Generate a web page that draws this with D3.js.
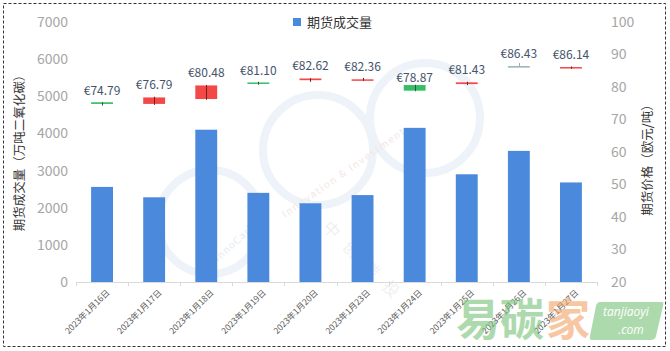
<!DOCTYPE html>
<html>
<head>
<meta charset="utf-8">
<script src="https://cdn.jsdelivr.net/npm/d3@7/dist/d3.min.js"></script>
<style>
  html, body { margin: 0; padding: 0; background: #fff; }
  svg { display: block; }
</style>
</head>
<body>
<svg id="chart" width="670" height="351"></svg>
<script>
// ---- data ----
const dates = ["2023年1月16日","2023年1月17日","2023年1月18日","2023年1月19日","2023年1月20日",
               "2023年1月23日","2023年1月24日","2023年1月25日","2023年1月26日","2023年1月27日"];
const volume = [2560, 2280, 4100, 2400, 2120, 2340, 4150, 2900, 3530, 2680];
const openP  = [75.3, 74.8, 76.3, 81.4, 82.1, 82.30, 80.6, 80.9, 86.43, 85.7];
const closeP = [74.79, 76.79, 80.48, 81.10, 82.62, 82.36, 78.87, 81.43, 86.43, 86.14];
const highP  = [75.3, 77.0, 80.6, 81.6, 82.7, 82.8, 80.7, 81.6, 87.4, 86.3];
const lowP   = [74.3, 74.5, 76.1, 80.7, 81.6, 81.9, 78.7, 80.6, 86.43, 85.6];
const leftTicks = [0, 1000, 2000, 3000, 4000, 5000, 6000, 7000];
const rightTicks = [20, 30, 40, 50, 60, 70, 80, 90, 100];
const legendLabel = "期货成交量";
const leftTitle = "期货成交量（万吨二氧化碳）";
const rightTitle = "期货价格（欧元/吨）";

const font = "'Noto Sans CJK SC','Noto Sans',sans-serif";
const svg = d3.select("#chart");

// outer dashed border
svg.append("rect").attr("x", 3.5).attr("y", 3.5).attr("width", 662).attr("height", 343)
  .attr("fill", "#fff").attr("stroke", "#333").attr("stroke-width", 1).attr("stroke-dasharray", "3,2");

// ---- watermark ----
const wm = svg.append("g").attr("pointer-events", "none");
[[210, 222, 52], [318, 150, 55], [425, 118, 55]].forEach(c => {
  wm.append("circle").attr("cx", c[0]).attr("cy", c[1]).attr("r", c[2])
    .attr("fill", "none").attr("stroke", "#edf3f9").attr("stroke-width", 8);
});
wm.append("text").attr("transform", "translate(218,262) rotate(-42)")
  .attr("font-family", font).attr("font-size", 10).attr("fill", "#e6ecf2").attr("letter-spacing", 1).text("InnoCarbon");
wm.append("text").attr("transform", "translate(285,218) rotate(-35)")
  .attr("font-family", font).attr("font-size", 10).attr("fill", "#f5e6e6").attr("letter-spacing", 1.5).text("Innovation & Investment");
wm.append("text").attr("transform", "translate(322,228) rotate(45)")
  .attr("font-family", font).attr("font-size", 16).attr("fill", "#f0f0f0").attr("letter-spacing", 12).text("中创碳投");

// ---- scales ----
const x = d3.scaleBand().domain(dates).range([76, 597]).paddingInner(0.58).paddingOuter(0.29);
const step = x.step();
const yL = d3.scaleLinear().domain([0, 7000]).range([282, 22]);
const yR = d3.scaleLinear().domain([20, 100]).range([282, 22]);

// ---- axes ----
const axL = svg.append("g").attr("transform", "translate(70,0)")
  .call(d3.axisLeft(yL).tickValues(leftTicks).tickFormat(d3.format("d")).tickSize(0).tickPadding(2));
axL.select(".domain").remove();
axL.selectAll("text").attr("font-family", font).attr("font-size", 14).attr("fill", "#a6a6a6");

const axR = svg.append("g").attr("transform", "translate(609,0)")
  .call(d3.axisRight(yR).tickValues(rightTicks).tickFormat(d3.format("d")).tickSize(0).tickPadding(2));
axR.select(".domain").remove();
axR.selectAll("text").attr("font-family", font).attr("font-size", 14).attr("fill", "#a6a6a6");

// baseline + category ticks
svg.append("line").attr("x1", x.range()[0]).attr("x2", x.range()[1])
  .attr("y1", yL(0) + 0.5).attr("y2", yL(0) + 0.5).attr("stroke", "#d9d9d9");
const boundaries = dates.map(d => x(d) - x.paddingInner() * step / 2).concat([x.range()[1]]);
svg.selectAll(".ctick").data(boundaries).enter().append("line")
  .attr("x1", d => Math.round(d) + 0.5).attr("x2", d => Math.round(d) + 0.5)
  .attr("y1", yL(0)).attr("y2", yL(0) + 4).attr("stroke", "#d9d9d9");

// x labels
svg.selectAll(".xl").data(dates).enter().append("text")
  .attr("transform", d => `translate(${x(d) + x.bandwidth() / 2 + 6},${yL(0) + 9}) rotate(-45)`)
  .attr("text-anchor", "end").attr("dy", "0.35em")
  .attr("font-family", font).attr("font-size", 8.5).attr("fill", "#595959")
  .text(d => d);

// ---- bars ----
svg.selectAll(".bar").data(dates).enter().append("rect")
  .attr("x", d => x(d)).attr("width", x.bandwidth())
  .attr("y", (d, i) => yL(volume[i])).attr("height", (d, i) => yL(0) - yL(volume[i]))
  .attr("fill", "#4a89dc");

// ---- candles ----
const candleW = x.bandwidth();
const colorOf = i => closeP[i] > openP[i] ? "#f34848" : (closeP[i] < openP[i] ? "#36be67" : "#8fb3b8");
const wickOf = i => closeP[i] > openP[i] ? "#7a1c1c" : (closeP[i] < openP[i] ? "#1d5e35" : "#8fb3b8");
const cg = svg.append("g");
dates.forEach((d, i) => {
  const cx = Math.round(x(d) + x.bandwidth() / 2) + 0.5;
  const top = yR(Math.max(openP[i], closeP[i]));
  const bot = yR(Math.min(openP[i], closeP[i]));
  cg.append("rect").attr("x", x(d)).attr("width", candleW)
    .attr("y", top).attr("height", Math.max(1.5, bot - top)).attr("fill", colorOf(i));
  cg.append("line").attr("x1", cx).attr("x2", cx)
    .attr("y1", yR(highP[i])).attr("y2", yR(lowP[i])).attr("stroke", wickOf(i)).attr("stroke-width", 1);
  cg.append("text").attr("x", x(d) + x.bandwidth() / 2).attr("y", yR(closeP[i]) - 8.5)
    .attr("text-anchor", "middle").attr("font-family", font).attr("font-size", 12)
    .attr("fill", "#44546a").text("€" + closeP[i].toFixed(2));
});

// ---- legend ----
svg.append("rect").attr("x", 293).attr("y", 18).attr("width", 8).attr("height", 8).attr("fill", "#4a89dc");
svg.append("text").attr("x", 307).attr("y", 22).attr("dy", "0.35em")
  .attr("font-family", font).attr("font-size", 13).attr("fill", "#333").text(legendLabel);

// ---- axis titles ----
svg.append("text").attr("transform", "translate(20,150) rotate(-90)").attr("text-anchor", "middle")
  .attr("dy", "0.35em").attr("font-family", font).attr("font-size", 12.5).attr("fill", "#333").text(leftTitle);
svg.append("text").attr("transform", "translate(648,157) rotate(-90)").attr("text-anchor", "middle")
  .attr("dy", "0.35em").attr("font-family", font).attr("font-size", 12.5).attr("fill", "#333").text(rightTitle);

// ---- logo watermark ----
const logo = svg.append("g").attr("opacity", 0.62);
logo.append("text").attr("x", 456).attr("y", 336).attr("font-family", font).attr("font-weight", "bold")
  .attr("font-size", 44).attr("fill", "#7cc47c").text("易碳");
logo.append("text").attr("x", 546).attr("y", 336).attr("font-family", font).attr("font-weight", "bold")
  .attr("font-size", 44).attr("fill", "#f2a66a").text("家");
logo.append("path").attr("d", "M598,302 L662,302 Q664,302 663,306 L656,336 Q655,340 651,340 L592,340 Q589,340 590,336 L596,306 Q597,302 600,302 Z")
  .attr("fill", "#7cc47c");
logo.append("text").attr("x", 626).attr("y", 316).attr("text-anchor", "middle").attr("font-family", "'Open Sans',sans-serif")
  .attr("font-style", "italic").attr("font-size", 12).attr("fill", "#fff").text("tanjiaoyi");
logo.append("text").attr("x", 631).attr("y", 334).attr("text-anchor", "middle").attr("font-family", "'Open Sans',sans-serif")
  .attr("font-style", "italic").attr("font-size", 12).attr("fill", "#fff").text(".com");
</script>
</body>
</html>
